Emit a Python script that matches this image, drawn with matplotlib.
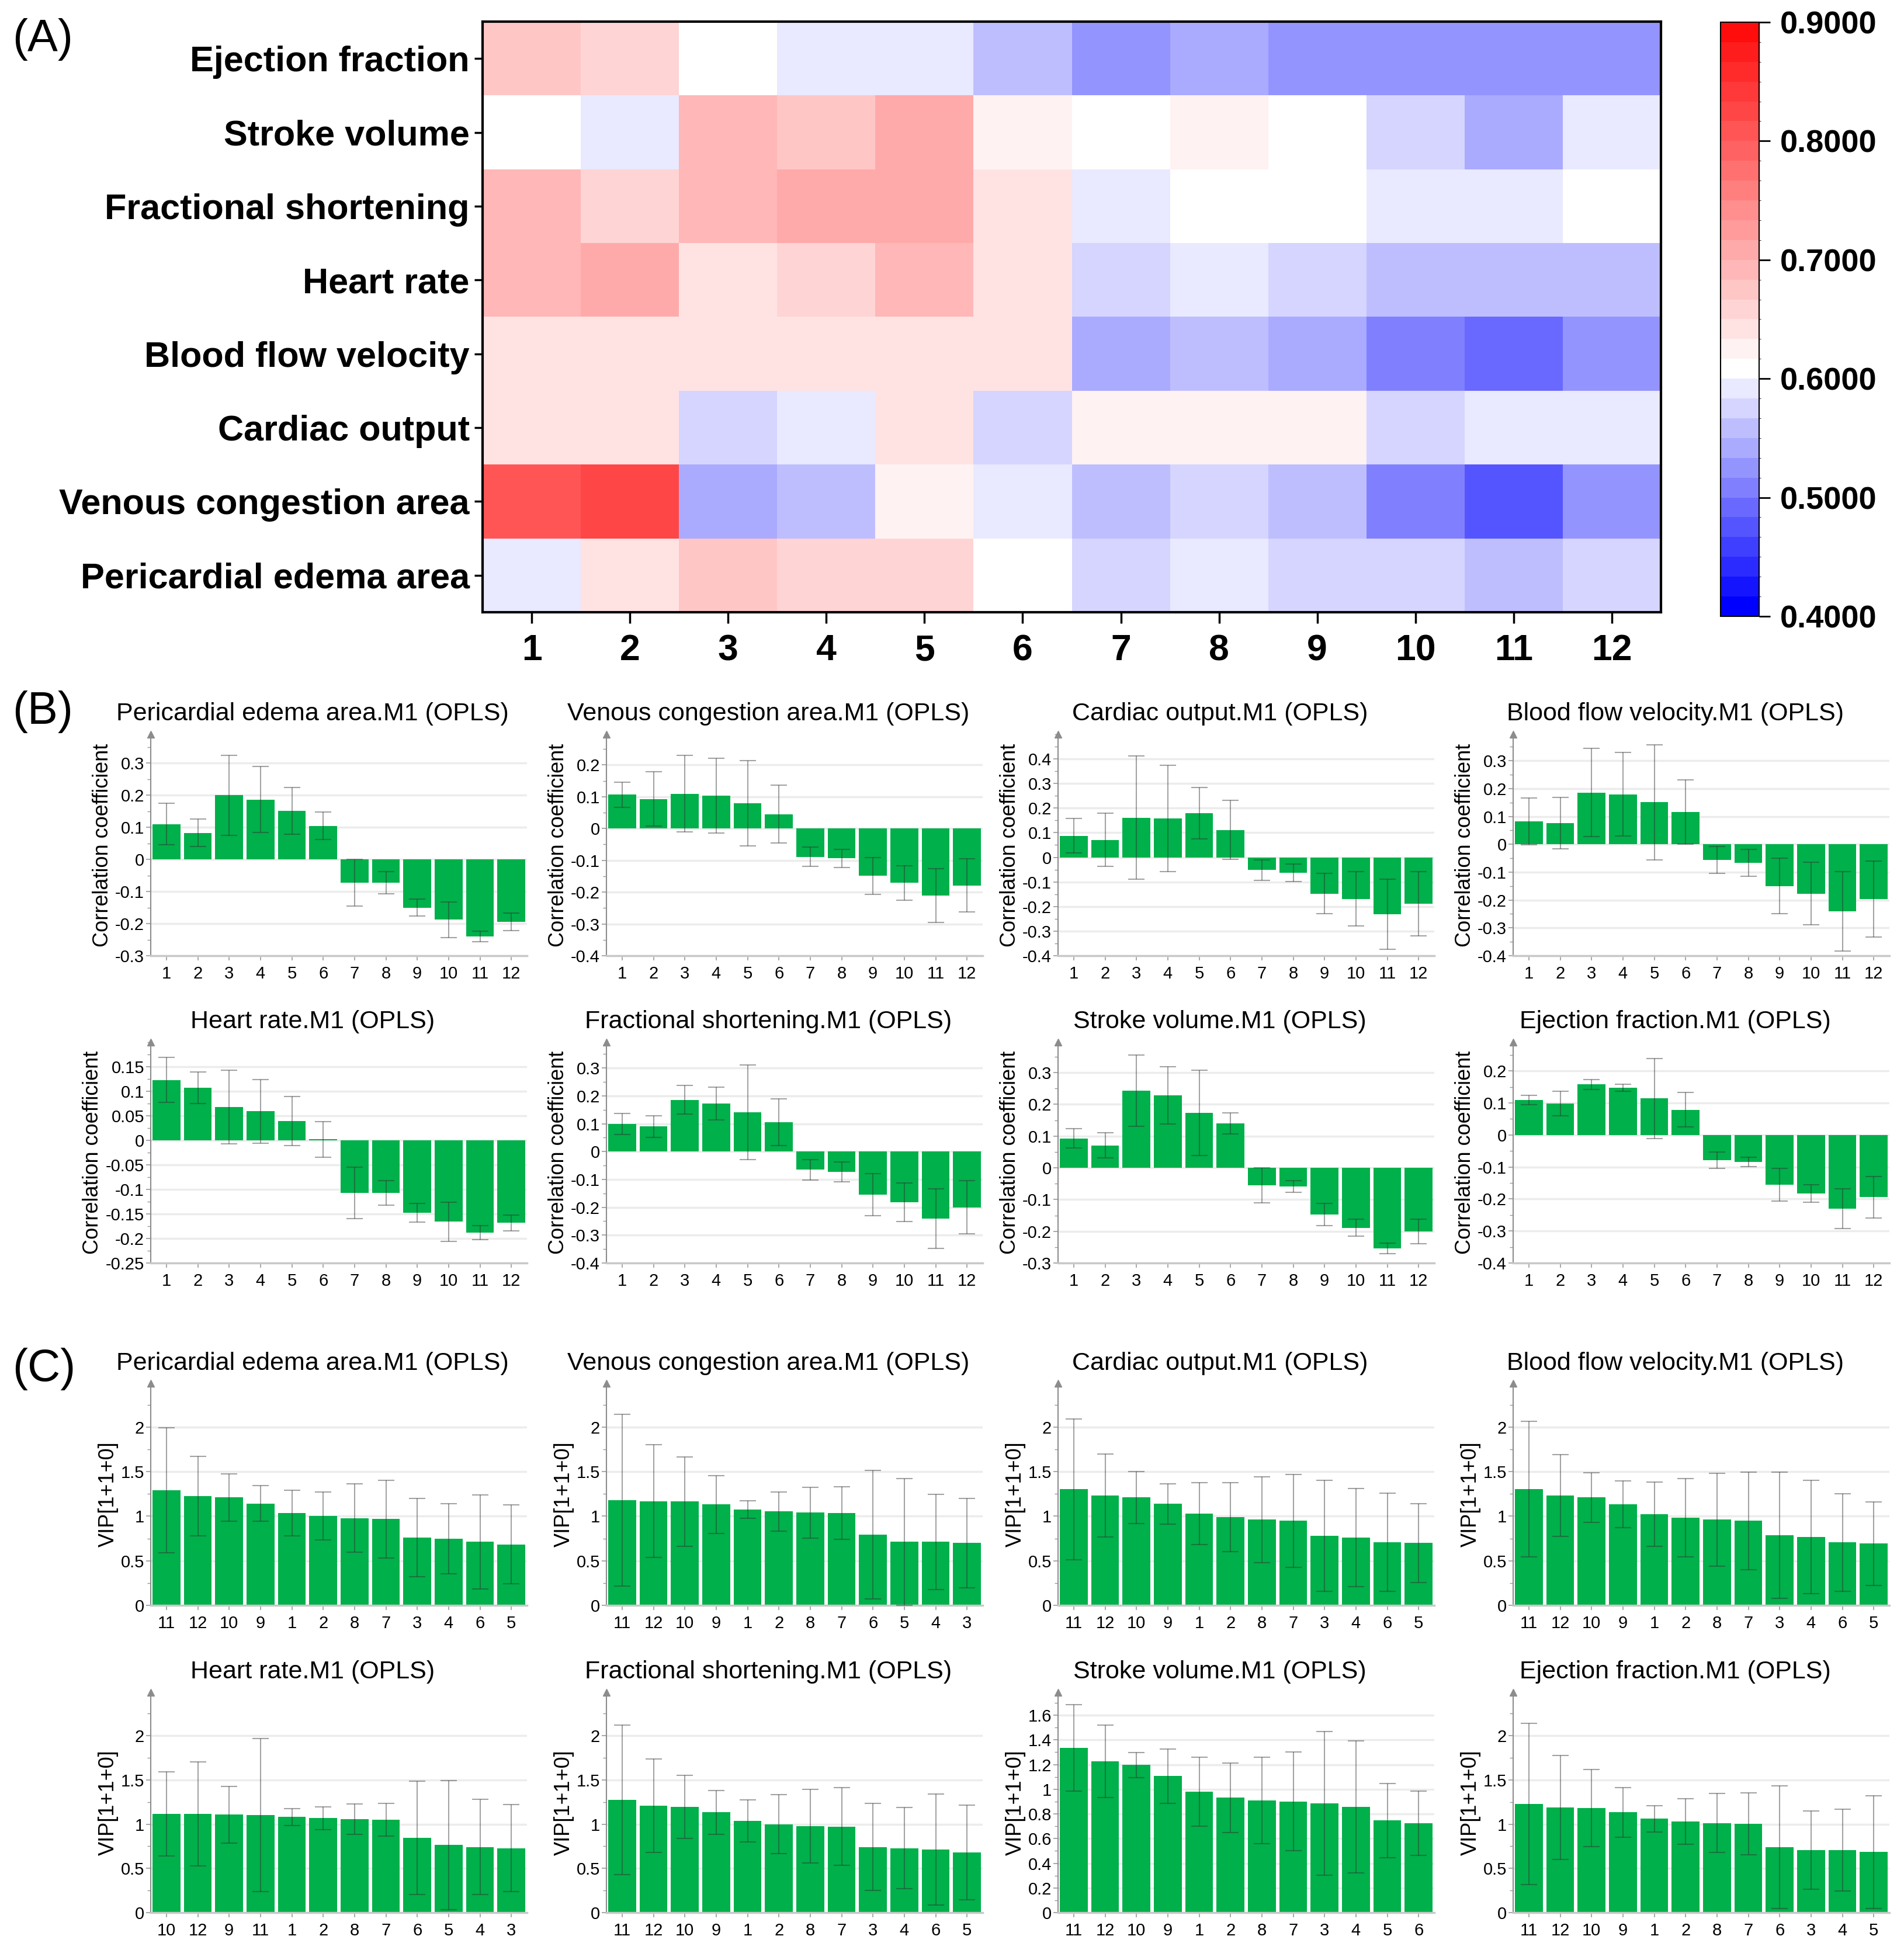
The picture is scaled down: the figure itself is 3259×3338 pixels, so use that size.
import numpy as np
import matplotlib.pyplot as plt
from matplotlib.colors import ListedColormap, BoundaryNorm, LinearSegmentedColormap
from matplotlib.ticker import FormatStrFormatter, AutoMinorLocator

plt.rcParams['font.family'] = ['Liberation Sans', 'DejaVu Sans']
plt.rcParams['axes.unicode_minus'] = False

W, H = 3259, 3338

# ---------------- (A) heatmap data ----------------
params = ["Ejection fraction", "Stroke volume", "Fractional shortening", "Heart rate",
          "Blood flow velocity", "Cardiac output", "Venous congestion area",
          "Pericardial edema area"]
groups = [str(i) for i in range(1, 13)]
hm_ejection = [0.675, 0.658, 0.608, 0.592, 0.592, 0.558, 0.525, 0.542, 0.525, 0.525, 0.525, 0.525]
hm_stroke = [0.608, 0.592, 0.692, 0.675, 0.708, 0.625, 0.608, 0.625, 0.608, 0.575, 0.542, 0.592]
hm_fractional = [0.692, 0.658, 0.692, 0.708, 0.708, 0.642, 0.592, 0.608, 0.608, 0.592, 0.592, 0.608]
hm_heart = [0.692, 0.708, 0.642, 0.658, 0.692, 0.642, 0.575, 0.592, 0.575, 0.558, 0.558, 0.558]
hm_bloodflow = [0.642, 0.642, 0.642, 0.642, 0.642, 0.642, 0.542, 0.558, 0.542, 0.508, 0.492, 0.525]
hm_cardiac = [0.642, 0.642, 0.575, 0.592, 0.642, 0.575, 0.625, 0.625, 0.625, 0.575, 0.592, 0.592]
hm_venous = [0.808, 0.825, 0.542, 0.558, 0.625, 0.592, 0.558, 0.575, 0.558, 0.508, 0.475, 0.525]
hm_pericardial = [0.592, 0.642, 0.675, 0.658, 0.658, 0.608, 0.575, 0.592, 0.575, 0.575, 0.558, 0.575]
cbar_ticks = [0.4, 0.5, 0.6, 0.7, 0.8, 0.9]

# ---------------- (B) correlation coefficients ----------------
cc_pericardial = [0.11, 0.083, 0.2, 0.187, 0.152, 0.105, -0.072, -0.072, -0.15, -0.188, -0.24, -0.195]
cc_pericardial_err = [0.065, 0.043, 0.125, 0.103, 0.073, 0.043, 0.073, 0.035, 0.027, 0.055, 0.017, 0.027]
cc_venous = [0.106, 0.093, 0.109, 0.103, 0.079, 0.045, -0.089, -0.094, -0.149, -0.171, -0.211, -0.179]
cc_venous_err = [0.04, 0.085, 0.12, 0.117, 0.134, 0.091, 0.03, 0.028, 0.058, 0.054, 0.084, 0.084]
cc_cardiac = [0.087, 0.071, 0.161, 0.158, 0.179, 0.111, -0.052, -0.063, -0.148, -0.169, -0.231, -0.189]
cc_cardiac_err = [0.07, 0.108, 0.25, 0.217, 0.105, 0.12, 0.041, 0.035, 0.082, 0.111, 0.143, 0.131]
cc_bloodflow = [0.083, 0.076, 0.186, 0.179, 0.151, 0.116, -0.056, -0.066, -0.15, -0.177, -0.241, -0.196]
cc_bloodflow_err = [0.084, 0.093, 0.158, 0.15, 0.207, 0.115, 0.048, 0.048, 0.1, 0.112, 0.143, 0.136]
cc_heart = [0.123, 0.107, 0.068, 0.059, 0.039, 0.002, -0.107, -0.107, -0.148, -0.166, -0.188, -0.168]
cc_heart_err = [0.046, 0.032, 0.075, 0.065, 0.05, 0.036, 0.052, 0.025, 0.019, 0.04, 0.014, 0.016]
cc_fractional = [0.099, 0.09, 0.186, 0.173, 0.141, 0.106, -0.065, -0.073, -0.155, -0.182, -0.241, -0.2]
cc_fractional_err = [0.038, 0.039, 0.051, 0.058, 0.17, 0.084, 0.037, 0.035, 0.075, 0.07, 0.107, 0.096]
cc_stroke = [0.093, 0.071, 0.243, 0.229, 0.173, 0.14, -0.055, -0.059, -0.148, -0.189, -0.254, -0.201]
cc_stroke_err = [0.03, 0.04, 0.113, 0.09, 0.135, 0.034, 0.056, 0.019, 0.035, 0.027, 0.017, 0.039]
cc_ejection = [0.109, 0.098, 0.158, 0.148, 0.114, 0.079, -0.079, -0.084, -0.156, -0.183, -0.231, -0.194]
cc_ejection_err = [0.015, 0.038, 0.016, 0.011, 0.125, 0.054, 0.025, 0.014, 0.051, 0.027, 0.062, 0.065]

# ---------------- (C) VIP values (sorted order as in the plots) ----------------
vip_pericardial_lbl = ["11", "12", "10", "9", "1", "2", "8", "7", "3", "4", "6", "5"]
vip_pericardial = [1.293, 1.227, 1.209, 1.142, 1.036, 1.0, 0.978, 0.969, 0.76, 0.747, 0.711, 0.684]
vip_pericardial_err = [0.70, 0.447, 0.267, 0.2, 0.258, 0.269, 0.382, 0.436, 0.442, 0.39, 0.53, 0.44]
vip_venous_lbl = ["11", "12", "10", "9", "1", "2", "8", "7", "6", "5", "4", "3"]
vip_venous = [1.178, 1.169, 1.164, 1.133, 1.076, 1.053, 1.04, 1.036, 0.791, 0.711, 0.711, 0.698]
vip_venous_err = [0.962, 0.633, 0.5, 0.324, 0.1, 0.22, 0.285, 0.293, 0.72, 0.71, 0.535, 0.5]
vip_cardiac_lbl = ["11", "12", "10", "9", "1", "2", "8", "7", "3", "4", "6", "5"]
vip_cardiac = [1.302, 1.231, 1.209, 1.138, 1.027, 0.987, 0.96, 0.947, 0.782, 0.76, 0.707, 0.698]
vip_cardiac_err = [0.79, 0.467, 0.29, 0.227, 0.347, 0.387, 0.48, 0.52, 0.622, 0.55, 0.55, 0.445]
vip_bloodflow_lbl = ["11", "12", "10", "9", "1", "2", "8", "7", "3", "4", "6", "5"]
vip_bloodflow = [1.307, 1.231, 1.209, 1.133, 1.022, 0.982, 0.96, 0.947, 0.787, 0.764, 0.707, 0.693]
vip_bloodflow_err = [0.76, 0.46, 0.278, 0.26, 0.362, 0.44, 0.52, 0.55, 0.71, 0.635, 0.547, 0.47]
vip_heart_lbl = ["10", "12", "9", "11", "1", "2", "8", "7", "6", "5", "4", "3"]
vip_heart = [1.116, 1.116, 1.107, 1.102, 1.08, 1.067, 1.058, 1.053, 0.844, 0.764, 0.742, 0.729]
vip_heart_err = [0.478, 0.59, 0.318, 0.865, 0.093, 0.13, 0.17, 0.185, 0.64, 0.73, 0.54, 0.49]
vip_fractional_lbl = ["11", "12", "10", "9", "1", "2", "8", "7", "3", "4", "6", "5"]
vip_fractional = [1.276, 1.209, 1.196, 1.133, 1.036, 1.0, 0.978, 0.973, 0.742, 0.729, 0.711, 0.68]
vip_fractional_err = [0.845, 0.53, 0.356, 0.245, 0.24, 0.335, 0.418, 0.44, 0.493, 0.46, 0.627, 0.533]
vip_stroke_lbl = ["11", "12", "10", "9", "1", "2", "8", "7", "3", "4", "5", "6"]
vip_stroke = [1.334, 1.225, 1.196, 1.106, 0.981, 0.932, 0.91, 0.9, 0.887, 0.859, 0.746, 0.723]
vip_stroke_err = [0.35, 0.294, 0.103, 0.22, 0.278, 0.282, 0.35, 0.4, 0.582, 0.535, 0.3, 0.26]
vip_ejection_lbl = ["11", "12", "10", "9", "1", "2", "8", "7", "6", "3", "4", "5"]
vip_ejection = [1.227, 1.191, 1.182, 1.133, 1.062, 1.031, 1.013, 1.004, 0.742, 0.707, 0.707, 0.684]
vip_ejection_err = [0.913, 0.587, 0.437, 0.282, 0.149, 0.255, 0.333, 0.35, 0.693, 0.442, 0.465, 0.64]

fig = plt.figure(figsize=(W / 100, H / 100), dpi=100)

# ================= (A) =================
matrix = np.array([hm_ejection, hm_stroke, hm_fractional, hm_heart,
                   hm_bloodflow, hm_cardiac, hm_venous, hm_pericardial])
bounds = np.linspace(0.4, 0.9, 31)
base = LinearSegmentedColormap.from_list('bwr_shift', [(0, '#0000ff'), (0.4, '#ffffff'), (1, '#ff0000')])
cmap = ListedColormap(base((bounds[:-1] - 0.4) / 0.5))
norm = BoundaryNorm(bounds, cmap.N)

axh = fig.add_axes([826 / W, 1 - 1048 / H, (2843 - 826) / W, (1048 - 37) / H])
mesh = axh.pcolormesh(np.arange(13) + 0.5, np.arange(9), matrix, cmap=cmap, norm=norm)
axh.set_xlim(0.5, 12.5)
axh.set_ylim(8, 0)
axh.set_xticks(np.arange(1, 13))
axh.set_xticklabels(groups, fontsize=45, fontweight='bold')
axh.set_yticks(np.arange(8) + 0.5)
axh.set_yticklabels(params, fontsize=44, fontweight='bold')
axh.tick_params(axis='y', length=10, width=2.5, pad=6)
axh.tick_params(axis='x', length=14, width=2.5, pad=12)
for s in axh.spines.values():
    s.set_linewidth(3)

cax = fig.add_axes([2945 / W, 1 - 1055 / H, 66 / W, (1055 - 38) / H])
cb = fig.colorbar(mesh, cax=cax, ticks=cbar_ticks, spacing='proportional')
cb.ax.yaxis.set_major_formatter(FormatStrFormatter('%.4f'))
cb.ax.tick_params(labelsize=39, length=14, width=2, pad=12)
for t in cb.ax.get_yticklabels():
    t.set_fontweight('bold')
cb.outline.set_linewidth(1.5)

fig.text(21 / W, 1 - 68 / H, "(A)", fontsize=56, va='center', ha='left')
fig.text(21 / W, 1 - 1218 / H, "(B)", fontsize=56, va='center', ha='left')
fig.text(21 / W, 1 - 2343 / H, "(C)", fontsize=56, va='center', ha='left')

# ================= (B) and (C) =================
col_left = [258, 1038, 1811, 2590]
ax_w = 644
green = '#00B04A'


def bar_panel(col, top, bottom, title_y, title, labels, vals, errs, ylim, ticks, ylabel, minor=2):
    left = col_left[col]
    ax = fig.add_axes([left / W, 1 - bottom / H, ax_w / W, (bottom - top) / H])
    x = np.arange(len(vals))
    ticks = np.round(ticks, 2) + 0.0
    for t in ticks:
        ax.axhline(t, color='#ececec', lw=2.5, zorder=0)
    ax.bar(x, vals, width=0.89, color=green, zorder=2)
    ax.errorbar(x, vals, yerr=errs, fmt='none', ecolor=(0.2, 0.2, 0.2, 0.45),
                elinewidth=1.5, capsize=10, capthick=1.5, zorder=3)
    ax.set_xlim(-0.5, len(vals) - 0.5)
    ax.set_ylim(*ylim)
    ax.set_yticks(ticks)
    ax.yaxis.set_major_formatter(FormatStrFormatter('%g'))
    ax.yaxis.set_minor_locator(AutoMinorLocator(minor))
    ax.set_xticks(x)
    ax.set_xticklabels(labels)
    ax.tick_params(axis='both', which='major', labelsize=21, color='#999999', length=6, width=1.2)
    ax.tick_params(axis='y', which='minor', color='#999999', length=4, width=1)
    ax.tick_params(axis='x', pad=6)
    ax.tick_params(axis='y', pad=2)
    for s in ['top', 'right']:
        ax.spines[s].set_visible(False)
    ax.spines['left'].set_color('#8c8c8c')
    ax.spines['left'].set_linewidth(1.5)
    ax.spines['bottom'].set_color('#c8c8c8')
    ax.spines['bottom'].set_linewidth(2.5)
    ax.plot(0, 1, marker='^', ms=9, color='#8c8c8c', transform=ax.transAxes, clip_on=False)
    ax.set_ylabel(ylabel, fontsize=26, labelpad=3)
    fig.text((left + ax_w / 2 - 45) / W, 1 - title_y / H, title, fontsize=31, ha='center', va='center')
    return ax


rowB1 = (1257, 1636, 1222)
rowB2 = (1784, 2162, 1749)
rowC1 = (2368, 2748, 2334)
rowC2 = (2897, 3274, 2862)
cc_label = "Correlation coefficient"
vip_label = "VIP[1+1+0]"

bar_panel(0, *rowB1, "Pericardial edema area.M1 (OPLS)", groups, cc_pericardial, cc_pericardial_err,
          (-0.3, 0.39), np.arange(-0.3, 0.31, 0.1), cc_label)
bar_panel(1, *rowB1, "Venous congestion area.M1 (OPLS)", groups, cc_venous, cc_venous_err,
          (-0.4, 0.296), np.arange(-0.4, 0.21, 0.1), cc_label)
bar_panel(2, *rowB1, "Cardiac output.M1 (OPLS)", groups, cc_cardiac, cc_cardiac_err,
          (-0.4, 0.5), np.arange(-0.4, 0.41, 0.1), cc_label)
bar_panel(3, *rowB1, "Blood flow velocity.M1 (OPLS)", groups, cc_bloodflow, cc_bloodflow_err,
          (-0.4, 0.395), np.arange(-0.4, 0.31, 0.1), cc_label)
bar_panel(0, *rowB2, "Heart rate.M1 (OPLS)", groups, cc_heart, cc_heart_err,
          (-0.25, 0.2), np.arange(-0.25, 0.16, 0.05), cc_label)
bar_panel(1, *rowB2, "Fractional shortening.M1 (OPLS)", groups, cc_fractional, cc_fractional_err,
          (-0.4, 0.393), np.arange(-0.4, 0.31, 0.1), cc_label)
bar_panel(2, *rowB2, "Stroke volume.M1 (OPLS)", groups, cc_stroke, cc_stroke_err,
          (-0.3, 0.396), np.arange(-0.3, 0.31, 0.1), cc_label)
bar_panel(3, *rowB2, "Ejection fraction.M1 (OPLS)", groups, cc_ejection, cc_ejection_err,
          (-0.4, 0.29), np.arange(-0.4, 0.21, 0.1), cc_label)

vip_ticks = [0, 0.5, 1, 1.5, 2]
bar_panel(0, *rowC1, "Pericardial edema area.M1 (OPLS)", vip_pericardial_lbl, vip_pericardial,
          vip_pericardial_err, (0, 2.49), vip_ticks, vip_label)
bar_panel(1, *rowC1, "Venous congestion area.M1 (OPLS)", vip_venous_lbl, vip_venous,
          vip_venous_err, (0, 2.49), vip_ticks, vip_label)
bar_panel(2, *rowC1, "Cardiac output.M1 (OPLS)", vip_cardiac_lbl, vip_cardiac,
          vip_cardiac_err, (0, 2.49), vip_ticks, vip_label)
bar_panel(3, *rowC1, "Blood flow velocity.M1 (OPLS)", vip_bloodflow_lbl, vip_bloodflow,
          vip_bloodflow_err, (0, 2.49), vip_ticks, vip_label)
bar_panel(0, *rowC2, "Heart rate.M1 (OPLS)", vip_heart_lbl, vip_heart,
          vip_heart_err, (0, 2.49), vip_ticks, vip_label)
bar_panel(1, *rowC2, "Fractional shortening.M1 (OPLS)", vip_fractional_lbl, vip_fractional,
          vip_fractional_err, (0, 2.49), vip_ticks, vip_label)
bar_panel(2, *rowC2, "Stroke volume.M1 (OPLS)", vip_stroke_lbl, vip_stroke,
          vip_stroke_err, (0, 1.785), np.arange(0, 1.61, 0.2), vip_label)
bar_panel(3, *rowC2, "Ejection fraction.M1 (OPLS)", vip_ejection_lbl, vip_ejection,
          vip_ejection_err, (0, 2.49), vip_ticks, vip_label)

fig.savefig("out.png", dpi=100)
